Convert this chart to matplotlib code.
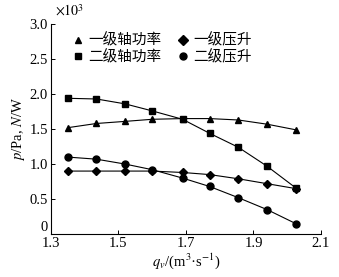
import matplotlib
matplotlib.use('Agg')
import matplotlib.pyplot as plt
from matplotlib.lines import Line2D

plt.rcParams['font.family'] = ['Liberation Serif', 'Noto Sans CJK SC']
plt.rcParams['mathtext.fontset'] = 'stix'

# 流量
qv = [1.35, 1.435, 1.52, 1.60, 1.69, 1.77, 1.855, 1.94, 2.025]
# 单位 x10^3
p1_power = [1.52, 1.58, 1.61, 1.64, 1.65, 1.65, 1.63, 1.57, 1.49]
p2_power = [1.94, 1.93, 1.86, 1.76, 1.64, 1.44, 1.24, 0.97, 0.66]
p1_rise = [0.90, 0.90, 0.90, 0.90, 0.88, 0.85, 0.79, 0.72, 0.65]
p2_rise = [1.10, 1.07, 1.00, 0.92, 0.80, 0.68, 0.52, 0.35, 0.15]

labels = ['一级轴功率', '二级轴功率', '一级压升', '二级压升']
xticks = [1.3, 1.5, 1.7, 1.9, 2.1]
yticks = [0, 0.5, 1.0, 1.5, 2.0, 2.5, 3.0]

fig = plt.figure(figsize=(3.39, 2.77), dpi=100)
ax = fig.add_axes([0.150, 0.155, 0.797, 0.758])

series = [(p1_power, '^'), (p2_power, 's'), (p1_rise, 'D'), (p2_rise, 'o')]
for vals, mk in series:
    ms = 4.5 if mk == 'D' else 5
    ax.plot(qv, vals, color='black', lw=0.8, marker=mk, ms=ms)

ax.set_xlim(1.3, 2.1)
ax.set_ylim(0, 3.0)
ax.set_xticks(xticks)
ax.set_xticklabels(['1.3', '1.5', '1.7', '1.9', '2.1'])
ax.set_yticks(yticks)
ax.set_yticklabels(['0', '0.5', '1.0', '1.5', '2.0', '2.5', '3.0'])
ax.tick_params(direction='in', length=3, width=0.7, labelsize=10.5, pad=2)
# 0 稍微抬高，避免和1.3重叠
ax.get_yticklabels()[0].set_va('bottom')
ax.spines['top'].set_visible(False)
ax.spines['right'].set_visible(False)
for s in ['left', 'bottom']:
    ax.spines[s].set_linewidth(0.8)

ax.set_xlabel('$q_v$/(m$^3$·s$^{-1}$)', fontsize=10.5, labelpad=1)
ax.set_ylabel('$p$/Pa, $N$/W', fontsize=10.5, labelpad=2)
fig.text(0.163, 0.945, r'$\times10^3$', fontsize=10)

handles = [Line2D([], [], color='black', marker=mk, ls='none', ms=5) for _, mk in series]
ax.legend(handles, labels, loc='upper left', bbox_to_anchor=(0.03, 1.02),
          ncol=2, frameon=False, fontsize=10.5, handlelength=0.8,
          handletextpad=0.3, columnspacing=1.1, labelspacing=0.15)

fig.savefig('out.png', dpi=100)
